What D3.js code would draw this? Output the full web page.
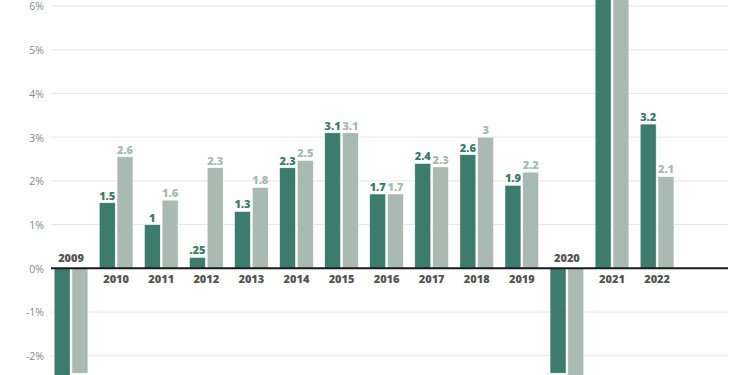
<!DOCTYPE html>
<html>
<head>
<meta charset="utf-8">
<script src="https://cdn.jsdelivr.net/npm/d3@7"></script>
<style>
  body { margin: 0; background: #fff; }
  svg { display: block; font-family: "Open Sans", sans-serif; }
</style>
</head>
<body>
<div id="chart"></div>
<script>
// years and the two series
var years = ["2009", "2010", "2011", "2012", "2013", "2014", "2015", "2016", "2017", "2018", "2019", "2020", "2021", "2022"];
var seriesA = [-2.7, 1.5, 1.0, 0.25, 1.3, 2.3, 3.1, 1.7, 2.4, 2.6, 1.9, -2.4, 6.8, 3.3];
var seriesB = [-2.4, 2.55, 1.56, 2.3, 1.85, 2.47, 3.1, 1.7, 2.32, 3.0, 2.2, -2.6, 6.9, 2.1];
// labels printed above the bars (none visible for clipped bars)
var labelsA = ["", "1.5", "1", ".25", "1.3", "2.3", "3.1", "1.7", "2.4", "2.6", "1.9", "", "", "3.2"];
var labelsB = ["", "2.6", "1.6", "2.3", "1.8", "2.5", "3.1", "1.7", "2.3", "3", "2.2", "", "", "2.1"];
var yTicks = [-2, -1, 0, 1, 2, 3, 4, 5, 6];

var w = 750, h = 375;
var colA = "#3d7b6c", colB = "#a8bab2";

var svg = d3.select("#chart").append("svg").attr("width", w).attr("height", h);

// y: 0% at 268, 6% at 6
var y = d3.scaleLinear().domain([0, 6]).range([268.3, 6]);
var x0 = d3.scaleBand().domain(years).range([48.5, 48.5 + 14 * 45.08]).paddingInner(0.25).paddingOuter(0.125);
var x1 = d3.scaleBand().domain(["a", "b"]).range([0, x0.bandwidth()]).paddingInner(0.1);

var gridL = 51, gridR = 728;

// 网格线
svg.selectAll(".grid").data(yTicks).enter().append("line")
    .attr("x1", gridL).attr("x2", gridR)
    .attr("y1", function (d) { return y(d); }).attr("y2", function (d) { return y(d); })
    .attr("stroke", "#e6e6e6").attr("stroke-width", 1);

// 左侧刻度
var yAxis = d3.axisLeft(y).tickValues(yTicks).tickSize(0).tickPadding(0)
    .tickFormat(function (d) { return d + "%"; });
var ga = svg.append("g").attr("transform", "translate(44,0.5)").call(yAxis);
ga.select(".domain").remove();
ga.selectAll("text").attr("fill", "#8a8a8a").attr("font-size", 10.5).attr("font-family", "Open Sans, sans-serif");

// 柱子
var rows = years.map(function (yr, i) {
    return [
        { year: yr, key: "a", v: seriesA[i], label: labelsA[i], color: colA },
        { year: yr, key: "b", v: seriesB[i], label: labelsB[i], color: colB }
    ];
});
var flat = [].concat.apply([], rows);

svg.selectAll(".bar").data(flat).enter().append("rect")
    .attr("x", function (d) { return x0(d.year) + x1(d.key); })
    .attr("width", x1.bandwidth())
    .attr("y", function (d) { return y(Math.max(0, d.v)); })
    .attr("height", function (d) { return Math.abs(y(d.v) - y(0)); })
    .attr("fill", function (d) { return d.color; })
    .attr("stroke", "#fff").attr("stroke-width", 0.6);

// 数值标签
svg.selectAll(".vlabel").data(flat.filter(function (d) { return d.label !== ""; })).enter().append("text")
    .attr("x", function (d) { return x0(d.year) + x1(d.key) + x1.bandwidth() / 2; })
    .attr("y", function (d) { return y(d.v) - 3; })
    .attr("text-anchor", "middle")
    .attr("font-size", 11).attr("font-weight", 800)
    .attr("fill", function (d) { return d.color; })
    .text(function (d) { return d.label; });

// 零线
svg.append("line").attr("x1", gridL).attr("x2", gridR).attr("y1", y(0)).attr("y2", y(0))
    .attr("stroke", "#1a1a1a").attr("stroke-width", 2);

// 年份标签: 负值年份放在零线上方
svg.selectAll(".year").data(years).enter().append("text")
    .attr("x", function (d) { return x0(d) + x0.bandwidth() / 2; })
    .attr("y", function (d, i) { return seriesA[i] < 0 ? y(0) - 6 : y(0) + 15; })
    .attr("text-anchor", "middle")
    .attr("font-size", 11).attr("font-weight", 800)
    .attr("fill", "#555")
    .text(function (d) { return d; });
</script>
</body>
</html>
